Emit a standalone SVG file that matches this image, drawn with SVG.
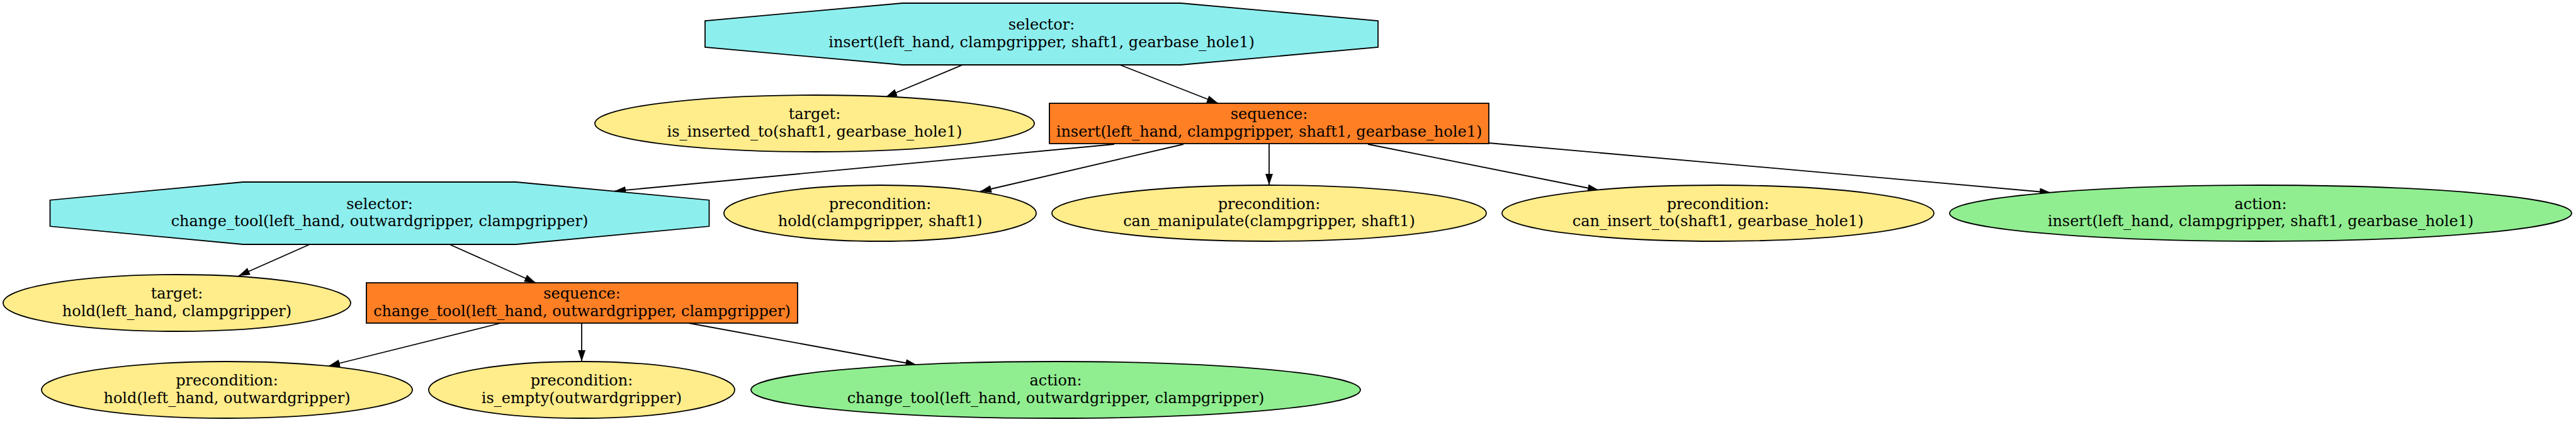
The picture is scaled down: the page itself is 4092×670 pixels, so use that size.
<svg xmlns="http://www.w3.org/2000/svg" width="4092" height="670" viewBox="0 0 4092 670">
<style>
.n{stroke:#000;stroke-width:1.8}
.sel{fill:#8deeee}
.seq{fill:#ff7f24}
.cond{fill:#ffec8b}
.act{fill:#90ee90}
text{font-family:"DejaVu Serif",serif;font-size:24px;text-anchor:middle;fill:#000}
.e line{stroke:#000;stroke-width:1.8;marker-end:url(#ah)}
</style>
<defs>
<marker id="ah" markerUnits="userSpaceOnUse" markerWidth="18" markerHeight="12" viewBox="0 0 18 12" refX="18" refY="6" orient="auto">
<path d="M0,0 L18,6 L0,12 z" fill="#000"/>
</marker>
</defs>
<rect width="4092" height="670" fill="#fff"/>
<g class="e" id="edges">
<line x1="1529" y1="103" x2="1407" y2="154"/>
<line x1="1779" y1="103" x2="1935" y2="164"/>
<line x1="1770" y1="229" x2="976" y2="303.5"/>
<line x1="1880" y1="229" x2="1557" y2="304"/>
<line x1="2016" y1="229" x2="2016" y2="294"/>
<line x1="2173" y1="229" x2="2540" y2="302"/>
<line x1="2365" y1="227" x2="3258" y2="306"/>
<line x1="492" y1="388" x2="379" y2="438"/>
<line x1="714" y1="388" x2="851" y2="449"/>
<line x1="795.5" y1="513" x2="522" y2="581"/>
<line x1="924" y1="513" x2="924" y2="574"/>
<line x1="1094" y1="513" x2="1456.5" y2="579.5"/>
</g>
<g id="sel1">
<polygon class="n sel" points="1433.5,5 1875.5,5 2189,33 2189,75 1875.5,103 1433.5,103 1120,75 1120,33"/>
<text x="1654.5" y="47">selector:</text>
<text x="1654.5" y="74.5">insert(left_hand, clampgripper, shaft1, gearbase_hole1)</text>
</g>
<g id="target1">
<ellipse class="n cond" cx="1294" cy="196" rx="349" ry="45"/>
<text x="1294" y="189">target:</text>
<text x="1294" y="216.5">is_inserted_to(shaft1, gearbase_hole1)</text>
</g>
<g id="seq1">
<rect class="n seq" x="1667" y="164" width="698" height="64"/>
<text x="2016" y="189">sequence:</text>
<text x="2016" y="216.5">insert(left_hand, clampgripper, shaft1, gearbase_hole1)</text>
</g>
<g id="sel2">
<polygon class="n sel" points="386,289 820,289 1126.5,317.7 1126.5,359.3 820,388 386,388 79.5,359.3 79.5,317.7"/>
<text x="603" y="331.5">selector:</text>
<text x="603" y="359">change_tool(left_hand, outwardgripper, clampgripper)</text>
</g>
<g id="pre1">
<ellipse class="n cond" cx="1398" cy="338.5" rx="248" ry="44.5"/>
<text x="1398" y="331.5">precondition:</text>
<text x="1398" y="359">hold(clampgripper, shaft1)</text>
</g>
<g id="pre2">
<ellipse class="n cond" cx="2016" cy="338.5" rx="345" ry="44.5"/>
<text x="2016" y="331.5">precondition:</text>
<text x="2016" y="359">can_manipulate(clampgripper, shaft1)</text>
</g>
<g id="pre3">
<ellipse class="n cond" cx="2729" cy="338.5" rx="343" ry="44.5"/>
<text x="2729" y="331.5">precondition:</text>
<text x="2729" y="359">can_insert_to(shaft1, gearbase_hole1)</text>
</g>
<g id="act1">
<ellipse class="n act" cx="3591" cy="338.5" rx="494" ry="44.5"/>
<text x="3591" y="331.5">action:</text>
<text x="3591" y="359">insert(left_hand, clampgripper, shaft1, gearbase_hole1)</text>
</g>
<g id="target2">
<ellipse class="n cond" cx="281" cy="481" rx="276" ry="45"/>
<text x="281" y="474">target:</text>
<text x="281" y="501.5">hold(left_hand, clampgripper)</text>
</g>
<g id="seq2">
<rect class="n seq" x="582" y="449" width="685" height="64"/>
<text x="924.5" y="474">sequence:</text>
<text x="924.5" y="501.5">change_tool(left_hand, outwardgripper, clampgripper)</text>
</g>
<g id="pre4">
<ellipse class="n cond" cx="360.5" cy="619" rx="294.5" ry="45"/>
<text x="360.5" y="612">precondition:</text>
<text x="360.5" y="639.5">hold(left_hand, outwardgripper)</text>
</g>
<g id="pre5">
<ellipse class="n cond" cx="924" cy="619" rx="243" ry="45"/>
<text x="924" y="612">precondition:</text>
<text x="924" y="639.5">is_empty(outwardgripper)</text>
</g>
<g id="act2">
<ellipse class="n act" cx="1677" cy="619" rx="484" ry="45"/>
<text x="1677" y="612">action:</text>
<text x="1677" y="639.5">change_tool(left_hand, outwardgripper, clampgripper)</text>
</g>
</svg>
